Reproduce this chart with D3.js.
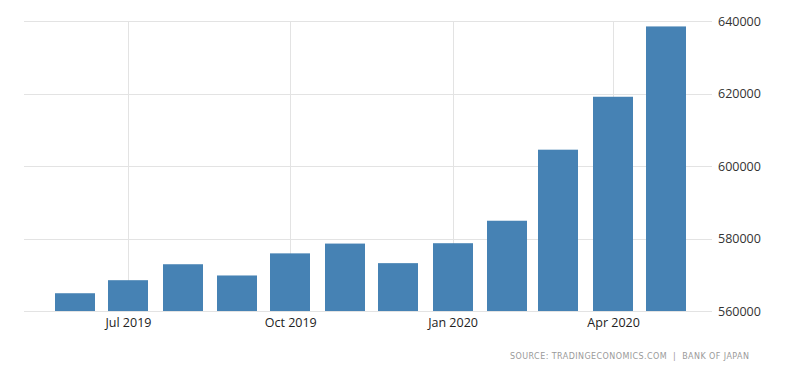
<!DOCTYPE html>
<html>
<head>
<meta charset="utf-8">
<script src="https://cdn.jsdelivr.net/npm/d3@7"></script>
<style>
  body { margin: 0; background: #fff; }
  svg { display: block; }
</style>
</head>
<body>
<div id="chart"></div>
<script>
//monthly values, Jun 2019 .. May 2020
var months = ["2019-06","2019-07","2019-08","2019-09","2019-10","2019-11",
              "2019-12","2020-01","2020-02","2020-03","2020-04","2020-05"];
var values = [564900, 568500, 572900, 569800, 575900, 578600,
              573200, 578700, 584900, 604500, 619100, 638500];
var yTicks = [560000, 580000, 600000, 620000, 640000];
var xTicks = ["2019-07","2019-10","2020-01","2020-04"];
var source = "SOURCE: TRADINGECONOMICS.COM  |  BANK OF JAPAN";

var W = 800, H = 373;
var plotL = 24, plotR = 712, plotT = 21, plotB = 311;
var parse = d3.timeParse("%Y-%m");

var svg = d3.select("#chart").append("svg").attr("width", W).attr("height", H);

var x = d3.scaleTime()
	.domain([parse(months[0]), parse(months[months.length-1])])
	.range([75, 666]);
var y = d3.scaleLinear().domain([560000, 640000]).range([plotB, plotT]);

//grid
svg.append("g").selectAll("line").data(yTicks).enter().append("line")
	.attr("x1", plotL).attr("x2", plotR)
	.attr("y1", function(d){return Math.round(y(d))+0.5})
	.attr("y2", function(d){return Math.round(y(d))+0.5})
	.attr("stroke", "#e3e3e3");

svg.append("g").selectAll("line").data(xTicks).enter().append("line")
	.attr("x1", function(d){return Math.round(x(parse(d)))+0.5})
	.attr("x2", function(d){return Math.round(x(parse(d)))+0.5})
	.attr("y1", plotT).attr("y2", plotB)
	.attr("stroke", "#e3e3e3");

//bars
var bw = 40;
svg.append("g").selectAll("rect").data(values).enter().append("rect")
	.attr("x", function(d,i){return Math.round(x(parse(months[i])) - bw/2)})
	.attr("width", bw)
	.attr("y", function(d){return y(d)})
	.attr("height", function(d){return plotB - y(d)})
	.attr("fill", "#4682b4");

//y axis on the right
var yAxis = svg.append("g")
	.attr("transform", "translate(" + 718 + ",0)")
	.call(d3.axisRight(y).tickValues(yTicks).tickSize(0).tickPadding(0).tickFormat(d3.format("d")));
yAxis.select(".domain").remove();
yAxis.selectAll("text")
	.attr("fill", "#333")
	.style("font-family", "'Open Sans', sans-serif")
	.style("font-size", "12.5px");

//x axis
var xAxis = svg.append("g")
	.attr("transform", "translate(0," + plotB + ")")
	.call(d3.axisBottom(x).tickValues(xTicks.map(parse)).tickSize(0).tickPadding(7).tickFormat(d3.timeFormat("%b %Y")));
xAxis.select(".domain").remove();
xAxis.selectAll("text")
	.attr("fill", "#222")
	.style("font-family", "'Open Sans', sans-serif")
	.style("font-size", "12.5px");

svg.append("text")
	.attr("x", 510).attr("y", 359)
	.attr("textLength", 239)
	.attr("lengthAdjust", "spacing")
	.attr("fill", "#9a9a9a")
	.style("white-space", "pre")
	.style("font-family", "'DejaVu Sans', sans-serif")
	.style("font-size", "8px")
	.text(source);
</script>
</body>
</html>
